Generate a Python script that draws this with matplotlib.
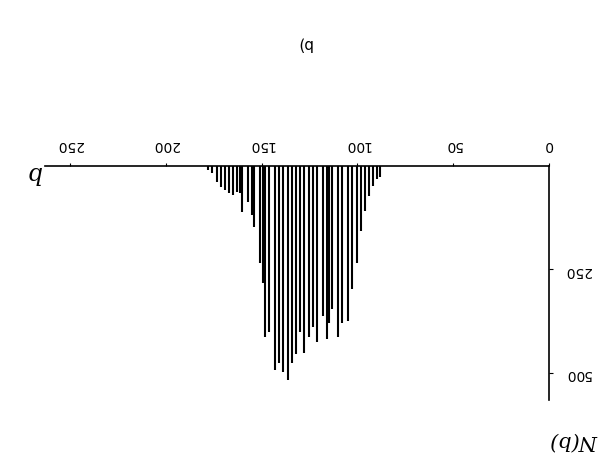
import matplotlib.pyplot as plt

# impact parameter b and number of events N(b)
b_vals = [88, 90, 92, 94, 96, 98, 100, 103, 105, 108, 110, 113, 115, 116, 118,
          121, 123, 125, 128, 130, 132, 134, 136, 139, 141, 143, 146, 148, 149,
          151, 154, 155, 157, 160, 161, 163, 165, 167, 169, 171, 173, 176, 178]
counts = [27, 32, 48, 72, 109, 157, 235, 298, 376, 381, 413, 347, 381, 420, 364,
          427, 391, 415, 452, 403, 456, 476, 518, 498, 476, 493, 403, 413, 284,
          236, 148, 120, 88, 112, 65, 63, 70, 65, 58, 50, 40, 17, 10]

x_ticks = [0, 50, 100, 150, 200, 250]
y_ticks = [250, 500]

fig = plt.figure(figsize=(6.08, 4.66), dpi=100)
ax = fig.add_axes([0.074, 0.142, 0.829, 0.502])

ax.vlines(b_vals, 0, counts, colors="black", linewidth=1.5)

# the whole panel is shown turned upside down
ax.set_xlim(263, 0)
ax.set_ylim(566, 0)
ax.xaxis.tick_top()
ax.yaxis.tick_right()
for side in ["left", "bottom"]:
    ax.spines[side].set_visible(False)
for side in ["top", "right"]:
    ax.spines[side].set_linewidth(1.2)

ax.set_xticks(x_ticks)
ax.set_yticks(y_ticks)
ax.tick_params(axis="x", length=2, pad=8, labelsize=10, labelrotation=180)
ax.tick_params(axis="y", length=3, pad=8, labelsize=10, labelrotation=180)

fig.text(0.055, 0.63, "b", fontsize=17, family="DejaVu Serif", style="italic",
         rotation=180, ha="center", va="center")
fig.text(0.945, 0.055, "N(b)", fontsize=15, family="DejaVu Serif",
         style="italic", rotation=180, ha="center", va="center")
fig.text(0.5, 0.905, "b)", fontsize=11, rotation=180, ha="center", va="center")

fig.savefig("out.png", dpi=100)
